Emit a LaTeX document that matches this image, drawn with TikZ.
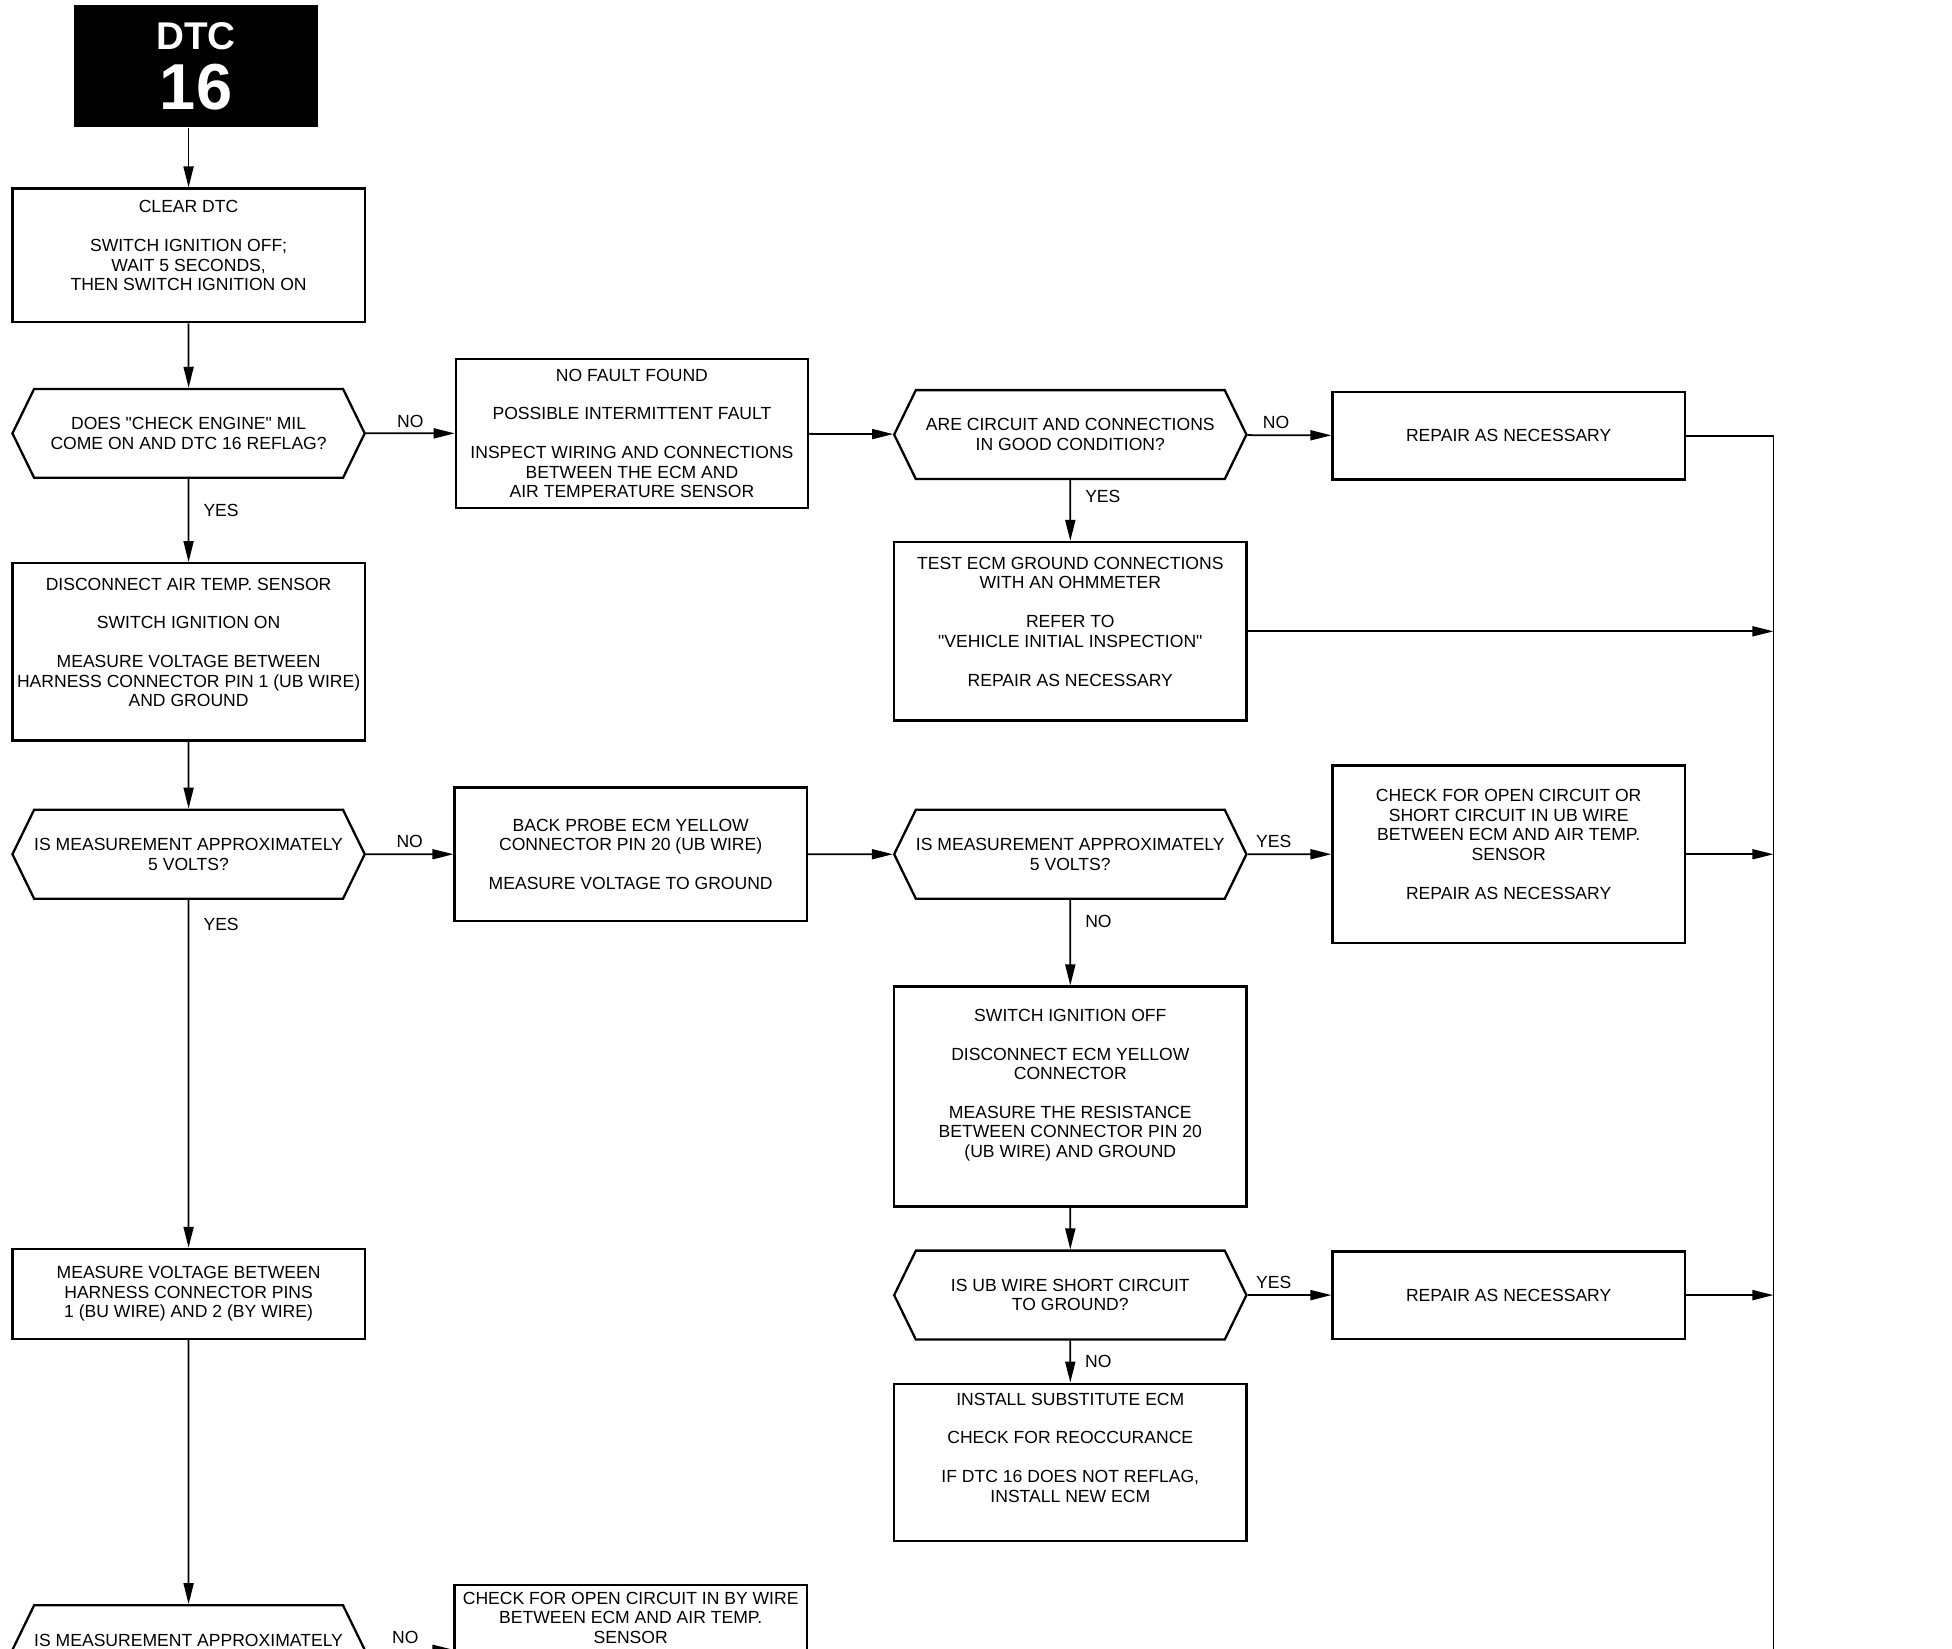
\documentclass[tikz,border=0pt]{standalone}
\usepackage{fontspec}
\setmainfont{Liberation Sans}
\usetikzlibrary{arrows.meta,shapes.symbols}

\begin{document}
\begin{tikzpicture}[x=0.025cm,y=-0.025cm,>={Triangle[length=0.42cm,width=0.2cm]},
  font=\fontsize{10}{11.1}\selectfont,
  stepbox/.style={draw,line width=1.3pt,minimum width=7.05cm,minimum height=#1,align=center,inner sep=2pt},
  query/.style={draw,line width=1.3pt,shape=signal,signal to=west and east,signal pointer angle=128,
    minimum width=7.05cm,minimum height=1.78cm,align=center,inner xsep=0pt,inner ysep=2pt},
  link/.style={->,line width=1pt},
  tag/.style={inner sep=2pt}]
\useasboundingbox (0,0) rectangle (1563,1320);
\clip (0,0) rectangle (1563,1320);

\node[fill=black,text=white,minimum width=4.875cm,minimum height=2.45cm,align=center,
  font=\bfseries\fontsize{22}{34}\selectfont] (dtc) at (157,53) {DTC\\{\fontsize{37}{37}\selectfont 16}};
\node[stepbox=2.675cm] (clear) at (151,204.5) {CLEAR DTC\\[11pt]SWITCH IGNITION OFF;\\WAIT 5 SECONDS,\\THEN SWITCH IGNITION ON\\};
\node[query] (mil) at (151,347) {DOES \textquotedbl CHECK ENGINE\textquotedbl\ MIL\\COME ON AND DTC 16 REFLAG?};
\node[stepbox=2.975cm] (nofault) at (506,347) {NO FAULT FOUND\\[11pt]POSSIBLE INTERMITTENT FAULT\\[11pt]INSPECT WIRING AND CONNECTIONS\\BETWEEN THE ECM AND\\AIR TEMPERATURE SENSOR};
\node[query] (circuit) at (857,348) {ARE CIRCUIT AND CONNECTIONS\\IN GOOD CONDITION?};
\node[stepbox=1.75cm] (repairA) at (1208,349) {REPAIR AS NECESSARY};
\node[stepbox=3.575cm] (ground) at (857,505.5) {TEST ECM GROUND CONNECTIONS\\WITH AN OHMMETER\\[11pt]REFER TO\\\textquotedbl VEHICLE INITIAL INSPECTION\textquotedbl\\[11pt]REPAIR AS NECESSARY\\};
\node[stepbox=3.55cm] (sensor) at (151,522) {DISCONNECT AIR TEMP. SENSOR\\[11pt]SWITCH IGNITION ON\\[11pt]MEASURE VOLTAGE BETWEEN\\HARNESS CONNECTOR PIN 1 (UB WIRE)\\AND GROUND\\};
\node[query] (voltsA) at (151,684) {IS MEASUREMENT APPROXIMATELY\\5 VOLTS?};
\node[stepbox=2.675cm] (probe) at (505,684) {BACK PROBE ECM YELLOW\\CONNECTOR PIN 20 (UB WIRE)\\[11pt]MEASURE VOLTAGE TO GROUND};
\node[query] (voltsB) at (857,684) {IS MEASUREMENT APPROXIMATELY\\5 VOLTS?};
\node[stepbox=3.55cm] (openUB) at (1208,684) {CHECK FOR OPEN CIRCUIT OR\\SHORT CIRCUIT IN UB WIRE\\BETWEEN ECM AND AIR TEMP.\\SENSOR\\[11pt]REPAIR AS NECESSARY\\};
\node[stepbox=4.4cm] (ohms) at (857,878) {SWITCH IGNITION OFF\\[11pt]DISCONNECT ECM YELLOW\\CONNECTOR\\[11pt]MEASURE THE RESISTANCE\\BETWEEN CONNECTOR PIN 20\\(UB WIRE) AND GROUND\\[4pt]};
\node[query] (short) at (857,1037) {IS UB WIRE SHORT CIRCUIT\\TO GROUND?};
\node[stepbox=1.75cm] (repairB) at (1208,1037) {REPAIR AS NECESSARY};
\node[stepbox=3.15cm] (ecm) at (857,1171) {INSTALL SUBSTITUTE ECM\\[11pt]CHECK FOR REOCCURANCE\\[11pt]IF DTC 16 DOES NOT REFLAG,\\INSTALL NEW ECM\\[6pt]};
\node[stepbox=1.8cm] (pins) at (151,1036) {MEASURE VOLTAGE BETWEEN\\HARNESS CONNECTOR PINS\\1 (BU WIRE) AND 2 (BY WIRE)};
\node[query] (voltsC) at (151,1321) {IS MEASUREMENT APPROXIMATELY\\};
\node[stepbox=0pt,inner ysep=4.2pt,anchor=north] (openBY) at (505,1268) {CHECK FOR OPEN CIRCUIT IN BY WIRE\\BETWEEN ECM AND AIR TEMP.\\SENSOR};

\coordinate (railtop) at (1420,349);
\coordinate (railend) at (1420,1340);

\draw[link] (dtc.south -| clear.north) -- (clear.north);
\draw[link] (clear) -- (mil);
\draw[link] (mil) -- node[tag,above=1pt] (noA) {NO} (nofault);
\draw[link] (mil) -- node[tag,right=6pt,pos=.38] (yesA) {YES} (sensor);
\draw[link] (nofault) -- (circuit);
\draw[link] (circuit) -- node[tag,above=1pt,pos=.34] (noB) {NO} (repairA);
\draw[link] (circuit) -- node[tag,right=6pt,pos=.27] (yesB) {YES} (ground);
\draw[line width=1pt] (repairA) -- (railtop) -- (railend);
\draw[link] (ground) -- (ground -| railtop);
\draw[link] (sensor) -- (voltsA);
\draw[link] (voltsA) -- node[tag,above=1pt] (noC) {NO} (probe);
\draw[link] (voltsA) -- node[tag,right=6pt,pos=.07] (yesC) {YES} (pins);
\draw[link] (probe) -- (voltsB);
\draw[link] (voltsB) -- node[tag,above=1pt,pos=.31] (yesD) {YES} (openUB);
\draw[link] (openUB) -- (openUB -| railtop);
\draw[link] (voltsB) -- node[tag,right=6pt,pos=.25] (noD) {NO} (ohms);
\draw[link] (ohms) -- (short);
\draw[link] (short) -- node[tag,above=1pt,pos=.31] (yesE) {YES} (repairB);
\draw[link] (repairB) -- (repairB -| railtop);
\draw[link] (short) -- node[tag,right=6pt,pos=.5] (noE) {NO} (ecm);
\draw[link] (pins) -- (voltsC);
\draw[link] (voltsC.east) -- node[tag,above=1pt,pos=.45] (noF) {NO} (voltsC.east -| openBY.west);
\end{tikzpicture}
\end{document}
